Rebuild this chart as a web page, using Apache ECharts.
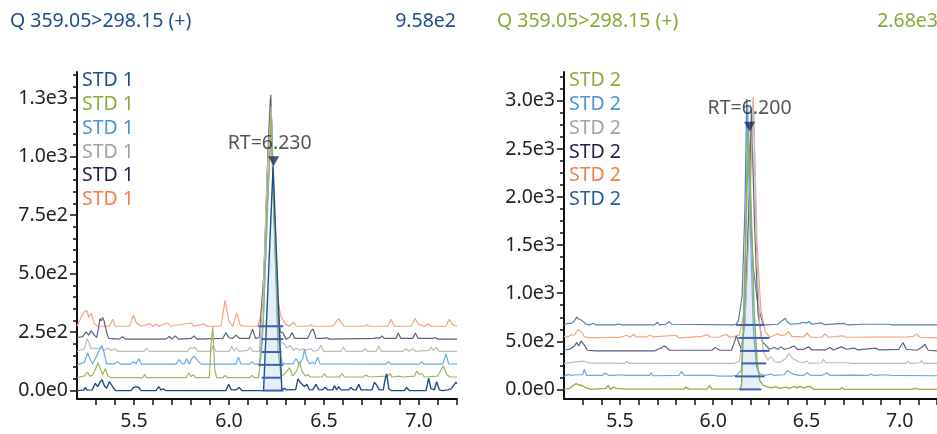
<!DOCTYPE html>
<html><head><meta charset="utf-8">
<script src="https://cdn.jsdelivr.net/npm/echarts@6/dist/echarts.min.js"></script>
<style>html,body{margin:0;padding:0;background:#fff}#c{width:937px;height:434px}</style>
</head><body><div id="c"></div>
<script>
// ---------- DATA ----------
const titleText = 'Q 359.05>298.15 (+)';
const leftMaxText = '9.58e2';
const rightMaxText = '2.68e3';
const leftNames = ['STD 1','STD 1','STD 1','STD 1','STD 1','STD 1'];
const rightNames = ['STD 2','STD 2','STD 2','STD 2','STD 2','STD 2'];
const leftOffsets = [0, 55, 110, 165, 220, 275];
const rightOffsets = [0, 135, 270, 400, 535, 670];
const leftRT = 'RT=6.230';
const rightRT = 'RT=6.200';
const leftRTPoint = [6.235, 980];
const rightRTPoint = [6.195, 2730];

const xTickValues = [5.3,5.4,5.5,5.6,5.7,5.8,5.9,6.0,6.1,6.2,6.3,6.4,6.5,6.6,6.7,6.8,6.9,7.0,7.1,7.2];
const xLabelValues = [5.5, 6.0, 6.5, 7.0];
const xLabels = ['5.5', '6.0', '6.5', '7.0'];
const leftYLabelValues = [0, 250, 500, 750, 1000, 1250];
const leftYLabels = ['0.0e0', '2.5e2', '5.0e2', '7.5e2', '1.0e3', '1.3e3'];
const leftYMinor = [50,100,150,200,300,350,400,450,550,600,650,700,800,850,900,950,1050,1100,1150,1200,1300,1350];
const rightYLabelValues = [0, 500, 1000, 1500, 2000, 2500, 3000];
const rightYLabels = ['0.0e0', '5.0e2', '1.0e3', '1.5e3', '2.0e3', '2.5e3', '3.0e3'];
const rightYMinor = [125,250,375,625,750,875,1125,1250,1375,1625,1750,1875,2125,2250,2375,2625,2750,2875,3125,3250];

// left traces [retention time, height above trace baseline]
const L0 = [[5.20,0],[5.235,2],[5.244,14],[5.252,2],[5.28,3],[5.296,31],[5.309,17],[5.321,36],[5.332,46],[5.344,21],[5.356,10],[5.37,38],[5.379,41],[5.391,13],[5.402,0],[5.484,0],[5.497,13],[5.51,17],[5.525,13],[5.537,0],[5.615,0],[5.63,17],[5.642,3],[5.654,7],[5.668,0],[5.984,0],[5.998,27],[6.012,3],[6.037,3],[6.054,13],[6.068,0],[6.182,0],[6.232,958],[6.278,0],[6.291,10],[6.303,3],[6.335,4],[6.351,4],[6.363,50],[6.374,36],[6.384,41],[6.397,17],[6.409,27],[6.423,4],[6.44,3],[6.458,27],[6.472,4],[6.493,3],[6.506,14],[6.52,3],[6.546,3],[6.555,21],[6.567,3],[6.577,17],[6.59,3],[6.63,3],[6.642,13],[6.654,3],[6.669,3],[6.683,27],[6.695,3],[6.753,3],[6.765,36],[6.777,24],[6.791,3],[6.812,3],[6.823,53],[6.83,71],[6.841,8],[6.853,0],[6.923,0],[6.935,13],[6.949,0],[7.037,0],[7.051,53],[7.063,8],[7.081,3],[7.093,38],[7.107,3],[7.125,0],[7.151,3],[7.169,7],[7.195,36],[7.2,30]];
const L1 = [[5.20,0],[5.239,8],[5.256,24],[5.268,7],[5.282,10],[5.30,43],[5.311,64],[5.321,43],[5.335,14],[5.349,38],[5.363,7],[5.379,0],[5.546,0],[5.556,14],[5.567,0],[5.774,0],[5.788,21],[5.8,4],[5.812,13],[5.823,0],[5.896,0],[5.905,135],[5.914,218],[5.925,36],[5.935,0],[5.967,0],[5.979,10],[5.993,0],[6.107,0],[6.12,10],[6.134,0],[6.156,0],[6.175,150],[6.2,650],[6.222,1125],[6.24,600],[6.258,120],[6.274,7],[6.291,14],[6.318,43],[6.335,7],[6.356,28],[6.37,67],[6.384,28],[6.402,7],[6.414,14],[6.427,3],[6.49,3],[6.502,18],[6.514,3],[6.581,3],[6.595,18],[6.609,3],[6.704,3],[6.721,11],[6.739,3],[6.835,7],[6.848,18],[6.858,3],[6.897,7],[6.905,10],[6.918,3],[6.976,7],[6.988,28],[7.002,14],[7.016,18],[7.028,3],[7.098,7],[7.116,33],[7.128,50],[7.146,14],[7.163,3],[7.2,3]];
const L2 = [[5.20,0],[5.239,11],[5.256,51],[5.268,26],[5.282,4],[5.296,26],[5.309,47],[5.321,68],[5.332,83],[5.344,47],[5.356,4],[5.397,4],[5.414,14],[5.428,3],[5.484,3],[5.497,14],[5.51,4],[5.525,26],[5.539,3],[5.721,3],[5.739,23],[5.753,4],[5.765,4],[5.777,26],[5.791,3],[5.805,28],[5.817,37],[5.835,18],[5.853,3],[6.037,3],[6.049,33],[6.063,4],[6.107,3],[6.12,14],[6.134,3],[6.16,3],[6.182,200],[6.203,700],[6.225,1050],[6.242,500],[6.26,120],[6.278,10],[6.291,4],[6.335,4],[6.353,26],[6.37,4],[6.388,26],[6.398,68],[6.409,26],[6.423,4],[6.441,11],[6.453,4],[6.467,33],[6.479,4],[6.827,3],[6.839,14],[6.851,3],[7.002,3],[7.014,14],[7.026,3],[7.125,3],[7.142,47],[7.156,4],[7.2,3]];
const L3 = [[5.20,3],[5.239,14],[5.253,57],[5.262,43],[5.274,14],[5.291,17],[5.309,14],[5.326,21],[5.344,7],[5.361,17],[5.379,7],[5.397,14],[5.414,3],[5.554,3],[5.566,17],[5.58,3],[5.782,3],[5.795,18],[5.809,14],[5.821,21],[5.835,3],[5.905,3],[5.917,28],[5.931,3],[6.002,3],[6.014,24],[6.028,3],[6.04,18],[6.054,3],[6.098,7],[6.11,21],[6.124,3],[6.16,3],[6.18,250],[6.2,750],[6.222,1050],[6.24,550],[6.258,130],[6.275,40],[6.291,36],[6.304,17],[6.321,28],[6.339,7],[6.356,17],[6.37,7],[6.388,14],[6.402,7],[6.432,14],[6.444,3],[6.467,7],[6.484,28],[6.497,3],[6.59,3],[6.602,21],[6.616,3],[6.704,3],[6.716,14],[6.73,3],[6.774,3],[6.788,26],[6.802,3],[6.914,3],[6.932,14],[6.946,3],[6.967,14],[6.981,3],[7.055,7],[7.063,21],[7.076,7],[7.09,21],[7.104,3],[7.2,3]];
const L4 = [[5.20,7],[5.23,11],[5.247,31],[5.262,17],[5.274,36],[5.291,17],[5.304,7],[5.314,50],[5.321,88],[5.328,78],[5.335,93],[5.344,74],[5.356,28],[5.367,3],[5.423,0],[5.44,10],[5.454,0],[5.668,0],[5.686,11],[5.7,0],[5.717,14],[5.735,0],[5.8,3],[5.817,14],[5.83,0],[5.967,3],[5.984,28],[5.998,7],[6.019,3],[6.037,17],[6.054,3],[6.107,3],[6.124,43],[6.139,3],[6.16,7],[6.185,300],[6.205,800],[6.22,1045],[6.235,600],[6.255,150],[6.27,30],[6.283,28],[6.30,0],[6.318,7],[6.332,28],[6.346,3],[6.414,3],[6.432,36],[6.444,43],[6.458,3],[6.502,3],[6.514,7],[6.528,0],[6.765,3],[6.777,7],[6.79,3],[6.805,14],[6.817,3],[6.879,3],[6.891,26],[6.905,3],[6.967,3],[6.981,26],[6.995,3],[7.072,3],[7.086,7],[7.1,0],[7.2,0]];
const L5 = [[5.20,0],[5.227,47],[5.239,63],[5.253,67],[5.262,37],[5.274,57],[5.291,10],[5.309,0],[5.37,0],[5.388,30],[5.402,0],[5.476,0],[5.497,47],[5.511,16],[5.521,23],[5.537,0],[5.585,10],[5.60,0],[5.616,10],[5.63,0],[5.677,14],[5.69,0],[5.80,14],[5.815,0],[5.87,10],[5.885,0],[5.958,0],[5.979,111],[5.999,23],[6.02,0],[6.041,57],[6.058,6],[6.075,0],[6.151,0],[6.165,37],[6.18,150],[6.20,600],[6.216,975],[6.235,500],[6.255,120],[6.274,40],[6.283,35],[6.30,7],[6.318,0],[6.339,18],[6.356,0],[6.42,0],[6.432,7],[6.444,0],[6.546,0],[6.563,18],[6.577,33],[6.59,18],[6.607,0],[6.713,0],[6.725,7],[6.738,0],[6.835,0],[6.853,30],[6.87,0],[6.958,0],[6.979,33],[6.999,7],[7.028,0],[7.046,11],[7.063,0],[7.142,0],[7.16,30],[7.177,7],[7.2,0]];

// right traces
const R0 = [[5.20,0],[5.23,10],[5.247,38],[5.265,59],[5.282,45],[5.30,38],[5.317,17],[5.344,0],[5.423,10],[5.437,38],[5.449,0],[5.467,24],[5.484,10],[5.53,3],[5.844,3],[5.852,24],[5.87,3],[5.967,3],[5.979,38],[5.993,3],[6.142,3],[6.152,40],[6.19,2680],[6.205,1800],[6.22,800],[6.235,300],[6.25,90],[6.267,45],[6.284,28],[6.31,17],[6.337,28],[6.354,10],[6.39,24],[6.407,10],[6.433,28],[6.45,17],[6.468,31],[6.486,14],[6.503,28],[6.521,31],[6.539,0],[6.679,0],[6.691,17],[6.705,0],[7.065,0],[7.083,10],[7.109,0],[7.2,0]];
const R1 = [[5.20,0],[5.221,21],[5.238,10],[5.274,17],[5.30,17],[5.309,73],[5.321,10],[5.405,10],[5.423,35],[5.44,10],[5.475,10],[5.493,17],[5.53,10],[5.66,10],[5.668,38],[5.677,7],[5.817,10],[5.83,52],[5.844,10],[5.888,10],[6.002,10],[6.01,17],[6.03,3],[6.1,3],[6.125,10],[6.15,60],[6.168,600],[6.185,2815],[6.2,1500],[6.215,500],[6.232,100],[6.249,28],[6.275,10],[6.31,24],[6.328,10],[6.381,17],[6.398,62],[6.416,38],[6.433,21],[6.46,10],[6.486,10],[6.503,38],[6.521,10],[6.582,10],[6.609,38],[6.626,10],[6.749,14],[6.83,10],[6.846,24],[6.863,10],[6.933,17],[6.95,10],[7.2,7]];
const R2 = [[5.20,0],[5.247,10],[5.265,17],[5.3,24],[5.317,17],[5.335,3],[5.458,3],[5.467,17],[5.475,0],[5.528,0],[5.537,24],[5.546,0],[5.79,0],[5.80,7],[5.81,0],[6.107,0],[6.14,20],[6.17,400],[6.195,1500],[6.215,2730],[6.232,1200],[6.25,400],[6.27,120],[6.293,35],[6.31,69],[6.328,17],[6.355,10],[6.39,52],[6.407,104],[6.425,52],[6.442,35],[6.456,17],[6.486,7],[6.503,24],[6.516,0],[6.583,7],[6.591,45],[6.603,7],[6.723,7],[6.74,0],[7.035,0],[7.047,24],[7.056,0],[7.11,7],[7.117,35],[7.126,0],[7.2,0]];
const R3 = [[5.20,7],[5.23,17],[5.256,52],[5.268,87],[5.279,52],[5.291,104],[5.3,111],[5.312,52],[5.326,7],[5.37,0],[5.686,0],[5.703,17],[5.721,28],[5.735,52],[5.747,42],[5.765,7],[5.993,7],[6.01,35],[6.019,52],[6.037,7],[6.098,7],[6.116,104],[6.124,156],[6.139,76],[6.151,17],[6.17,300],[6.19,1400],[6.205,2500],[6.222,1300],[6.24,400],[6.262,100],[6.27,87],[6.284,52],[6.302,17],[6.328,35],[6.346,17],[6.363,42],[6.381,17],[6.407,28],[6.433,52],[6.451,17],[6.486,17],[6.512,42],[6.53,10],[6.6,10],[6.626,35],[6.644,10],[6.688,42],[6.697,52],[6.714,17],[6.758,28],[6.775,10],[6.872,28],[6.89,10],[6.995,17],[7.018,87],[7.035,17],[7.091,7],[7.117,35],[7.135,69],[7.153,7],[7.2,0]];
const R4 = [[5.20,17],[5.221,7],[5.238,35],[5.256,28],[5.274,87],[5.282,104],[5.295,62],[5.309,14],[5.335,0],[5.475,7],[5.49,3],[5.519,17],[5.537,28],[5.554,7],[5.572,35],[5.59,10],[5.642,10],[5.66,28],[5.682,10],[5.80,28],[5.817,0],[5.94,17],[5.967,35],[5.984,7],[6.028,7],[6.054,28],[6.072,35],[6.09,7],[6.116,14],[6.14,30],[6.17,300],[6.195,1500],[6.215,2505],[6.235,1000],[6.255,300],[6.28,60],[6.305,7],[6.328,28],[6.346,42],[6.363,24],[6.39,35],[6.403,69],[6.421,17],[6.486,10],[6.503,52],[6.521,7],[6.582,7],[6.60,42],[6.618,7],[6.697,21],[6.714,7],[7.039,10],[7.074,17],[7.091,42],[7.109,7],[7.2,0]];
const R5 = [[5.20,0],[5.221,17],[5.238,17],[5.256,42],[5.268,83],[5.279,62],[5.291,52],[5.303,35],[5.317,10],[5.335,0],[5.356,17],[5.37,0],[5.475,0],[5.493,10],[5.51,0],[5.686,0],[5.70,28],[5.712,0],[5.747,7],[5.765,35],[5.777,7],[6.107,0],[6.121,7],[6.135,40],[6.155,300],[6.17,1200],[6.18,2350],[6.195,1400],[6.215,600],[6.24,200],[6.267,7],[6.284,0],[6.346,7],[6.368,42],[6.386,69],[6.398,28],[6.416,7],[6.46,14],[6.486,28],[6.5,17],[6.512,35],[6.53,7],[6.579,21],[6.6,3],[6.697,17],[6.723,0],[6.802,7],[6.942,7],[6.96,0],[7.2,0]];

// integration limits [start, end] per trace
const leftSegs = [[6.178,6.286],[6.172,6.277],[6.154,6.286],[6.172,6.277],[6.172,6.286],[6.154,6.286]];
const rightSegs = [[6.14,6.258],[6.117,6.275],[6.153,6.284],[6.144,6.302],[6.135,6.302],[6.123,6.275]];
const leftFillRange = [6.175, 6.285];
const rightFillRange = [6.14, 6.26];

// ---------- STYLE ----------
const FONT = '"Noto Sans", "Open Sans", sans-serif';
const FS = 19.5;
const leftTextColors = ['#1f4e8c','#8aab3e','#4a94dc','#a3a3a3','#23234a','#f2804c'];
const leftLineColors = ['#1f4e8c','#9ab85a','#6aaae6','#bdbdbd','#5f5f7d','#f6a27c'];
const rightTextColors = ['#8aab3e','#4a94dc','#a3a3a3','#23234a','#f2804c','#2b5b99'];
const rightLineColors = ['#8fb04a','#6aaae6','#bdbdbd','#5f5f7d','#f6a27c','#5a80b2'];
const segColor = '#3f5fb5';

const leftTraces = [L0, L1, L2, L3, L4, L5];
const rightTraces = [R0, R1, R2, R3, R4, R5];

const G = [
  {left: 77, top: 72, width: 380, height: 327},
  {left: 564, top: 72, width: 380, height: 327}
];
const yRange = [[-36, 1362], [-100, 3300]];

function lookup(vals, labels, v) {
  for (let i = 0; i < vals.length; i++) if (Math.abs(vals[i] - v) < 1e-6) return labels[i];
  return '';
}

const xAxes = [], yAxes = [], series = [];
[0, 1].forEach(g => {
  xAxes.push({
    type: 'value', gridIndex: g, min: 5.2, max: 7.2,
    axisLine: {show: true, onZero: false, lineStyle: {color: '#111', width: 2}},
    axisTick: {show: true, length: 6, customValues: xTickValues, lineStyle: {color: '#111', width: 1.5}},
    axisLabel: {customValues: xLabelValues, formatter: v => lookup(xLabelValues, xLabels, v),
      color: '#222', fontSize: FS, fontFamily: FONT, margin: 12},
    splitLine: {show: false}
  });
  const yv = g === 0 ? leftYLabelValues : rightYLabelValues;
  const yl = g === 0 ? leftYLabels : rightYLabels;
  yAxes.push({
    type: 'value', gridIndex: g, min: yRange[g][0], max: yRange[g][1], position: 'left',
    axisLine: {show: true, onZero: false, lineStyle: {color: '#111', width: 2}},
    axisTick: {show: true, length: 7, customValues: yv, lineStyle: {color: '#111', width: 1.5}},
    axisLabel: {customValues: yv, formatter: v => lookup(yv, yl, v),
      color: '#222', fontSize: FS, fontFamily: FONT, margin: 9},
    splitLine: {show: false}
  });
  yAxes.push({
    type: 'value', gridIndex: g, min: yRange[g][0], max: yRange[g][1], position: 'left', offset: 0,
    axisLine: {show: false, onZero: false},
    axisTick: {show: true, length: 4, customValues: g === 0 ? leftYMinor : rightYMinor, lineStyle: {color: '#111', width: 1.5}},
    axisLabel: {show: false},
    splitLine: {show: false}
  });
});

function addPanel(g, traces, offsets, lineColors, segs, fillRange, rtPoint, rtText, rtOffset) {
  const yIdx = g * 2;
  const fillData = traces[0].filter(p => p[0] >= fillRange[0] && p[0] <= fillRange[1]).map(p => [p[0], p[1] + offsets[0]]);
  series.push({
    type: 'line', xAxisIndex: g, yAxisIndex: yIdx, data: fillData, showSymbol: false, z: 1,
    lineStyle: {width: 0, opacity: 0},
    areaStyle: {color: 'rgba(205,225,245,0.75)', origin: offsets[0]}, silent: true
  });
  for (let i = traces.length - 1; i >= 0; i--) {
    series.push({
      type: 'line', xAxisIndex: g, yAxisIndex: yIdx, showSymbol: false, z: 2,
      data: traces[i].map(p => [p[0], p[1] + offsets[i]]),
      lineStyle: {color: lineColors[i], width: i === 0 ? 1.4 : 1.2}, silent: true
    });
  }
  segs.forEach((s, i) => {
    series.push({
      type: 'line', xAxisIndex: g, yAxisIndex: yIdx, showSymbol: false, z: 3,
      data: [[s[0], offsets[i]], [s[1], offsets[i]]],
      lineStyle: {color: segColor, width: 2}, silent: true
    });
  });
  series.push({
    type: 'scatter', xAxisIndex: g, yAxisIndex: yIdx, z: 4,
    data: [rtPoint], symbol: 'triangle', symbolRotate: 180, symbolSize: [11, 10],
    itemStyle: {color: '#1d2a5c'},
    label: {show: true, position: 'top', distance: 3, formatter: rtText, color: '#2a2a2a',
      fontSize: FS, fontFamily: FONT, offset: rtOffset}
  });
}
addPanel(0, leftTraces, leftOffsets, leftLineColors, leftSegs, leftFillRange, leftRTPoint, leftRT, [-4, 0]);
addPanel(1, rightTraces, rightOffsets, rightLineColors, rightSegs, rightFillRange, rightRTPoint, rightRT, [0, 0]);

const graphics = [];
function txt(x, y, text, color, align) {
  graphics.push({type: 'text', x: x, y: y, z: 10,
    style: {text: text, fill: color, font: FS + 'px ' + FONT, textAlign: align || 'left', textVerticalAlign: 'middle'}});
}
txt(10, 21, titleText, '#1f4e8c');
txt(456, 21, leftMaxText, '#1f4e8c', 'right');
txt(497, 21, titleText, '#86a83c');
txt(938, 21, rightMaxText, '#86a83c', 'right');
const legendY = [80, 104, 128, 152, 175, 199];
leftNames.forEach((n, i) => txt(82, legendY[i], n, leftTextColors[i]));
rightNames.forEach((n, i) => txt(569, legendY[i], n, rightTextColors[i]));

const chart = echarts.init(document.getElementById('c'), null, {renderer: 'canvas'});
chart.setOption({
  animation: false,
  grid: G,
  xAxis: xAxes,
  yAxis: yAxes,
  series: series,
  graphic: graphics
});
</script></body></html>
